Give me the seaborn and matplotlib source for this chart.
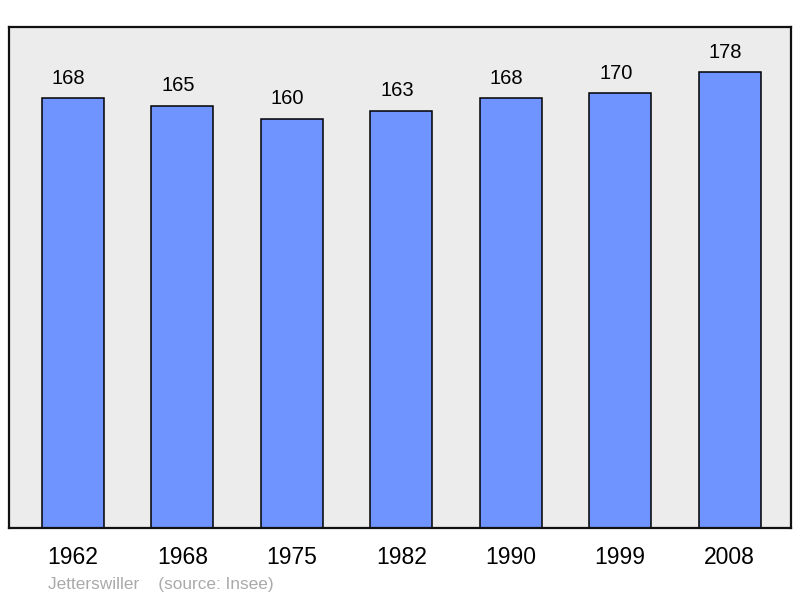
import matplotlib
matplotlib.use('Agg')

import matplotlib.pyplot as plt
import seaborn as sns
import pandas as pd

years = ["1962", "1968", "1975", "1982", "1990", "1999", "2008"]
population = [168, 165, 160, 163, 168, 170, 178]
commune = "Jetterswiller"
source = "(source: Insee)"

df = pd.DataFrame({"year": years, "pop": population})

sns.set_style("white")
plt.rcParams['font.family'] = ['Liberation Sans', 'DejaVu Sans']

fig = plt.figure(figsize=(8, 5.98), dpi=100)
ax = fig.add_axes([0.011, 0.117, 0.978, 0.838])
ax.set_facecolor("#ececec")

sns.barplot(
    data=df, x="year", y="pop", order=years,
    color="#7094ff", saturation=1, width=0.567,
    edgecolor="black", linewidth=1.1, ax=ax,
)

# valeurs au-dessus des barres (légèrement décalées à gauche comme l'original)
for bar, v in zip(ax.patches, population):
    ax.annotate(str(v), (bar.get_x() + bar.get_width() / 2, bar.get_height()),
                xytext=(-3, 7.5), textcoords="offset points",
                ha="center", va="bottom", fontsize=14.5, color="black")

ax.set_xlim(-0.585, 6.562)
ax.set_ylim(0, max(population) * 1.1)
ax.set_xlabel("")
ax.set_ylabel("")
ax.set_yticks([])
ax.tick_params(axis="x", length=0, pad=13, labelsize=16.5, labelcolor="black")

for s in ax.spines.values():
    s.set_visible(True)
    s.set_color("#111111")
    s.set_linewidth(1.6)

fig.text(48 / 800, 0.015, commune + "    " + source, fontsize=12.4,
         color="#aaaaaa", va="baseline", ha="left")

fig.savefig("out.png", dpi=100, facecolor="white")
